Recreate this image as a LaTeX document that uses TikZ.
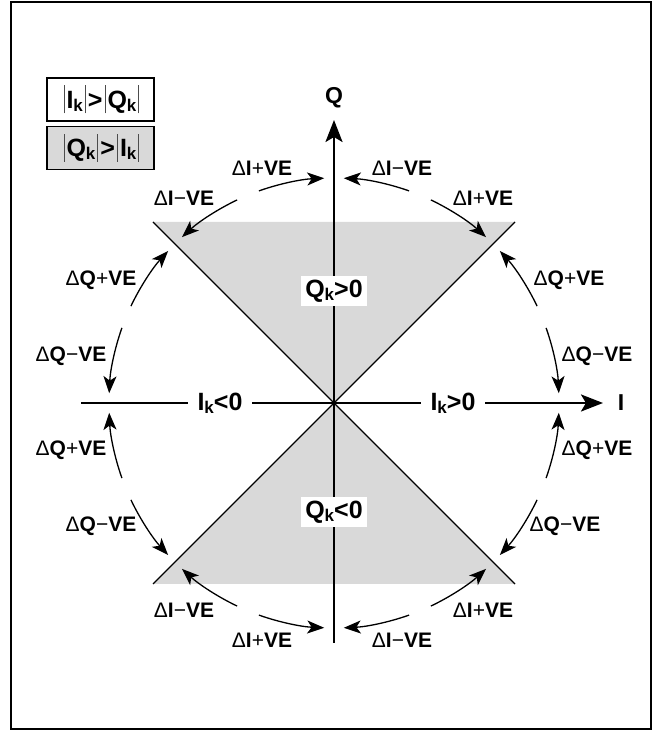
\documentclass[tikz,border=0pt]{standalone}
\usepackage{fontspec}
\setmainfont{Liberation Sans}
\usetikzlibrary{arrows.meta}
\newcommand\kk{\raisebox{-3bp}{\fontsize{17bp}{17bp}\selectfont k}}
\newcommand\vb{\hspace{2bp}\textcolor{black!70}{\rule[-5bp]{1bp}{28bp}}\hspace{2bp}}
\newcommand\dlab[2]{{\mdseries\char"0394}#1{\mdseries #2}VE}
\begin{document}
\begin{tikzpicture}[x=1bp,y=1bp,
  lab/.style={font=\fontsize{21bp}{22bp}\selectfont\bfseries, inner sep=0pt},
  bigw/.style={font=\fontsize{25bp}{27bp}\selectfont\bfseries, fill=white, inner xsep=10bp, inner ysep=2bp},
  bigq/.style={font=\fontsize{25bp}{27bp}\selectfont\bfseries, fill=white, inner xsep=4bp, inner ysep=4bp},
  axlab/.style={font=\fontsize{23bp}{24bp}\selectfont\bfseries, inner sep=0pt},
  axisline/.style={line width=2.6bp},
  axarrow/.style={-{Stealth[length=22bp,width=17bp,inset=5bp]}},
  arcarrow/.style={line width=1.3bp, -{Stealth[length=17bp,width=13bp,inset=4.5bp]}},
  diag/.style={line width=1.3bp},
  legbox/.style={draw, line width=1.3bp, minimum width=107bp, minimum height=43bp, inner sep=0pt,
     font=\fontsize{25bp}{27bp}\selectfont\bfseries}]
\useasboundingbox (0,0) rectangle (659,731);
\fill[white] (0,0) rectangle (659,731);
\coordinate (C) at (334,328);
\coordinate (ul) at (153,509);
\coordinate (ur) at (515,509);
\coordinate (ll) at (153,147);
\coordinate (lr) at (515,147);
\fill[gray!30] (ul) -- (ur) -- (C) -- cycle;
\fill[gray!30] (ll) -- (lr) -- (C) -- cycle;
\draw[diag] (ul) -- (lr);
\draw[diag] (ur) -- (ll);
\draw[line width=2.5bp] (11,2) rectangle (651,729);
% axes
\coordinate (hl) at (81,328);
\coordinate (hr) at (603,328);
\coordinate (vb) at (334,88);
\coordinate (vt) at (334,611);
\draw[axisline, axarrow] (hl) -- (hr);
\draw[axisline, axarrow] (vb) -- (vt);
\node[axlab] (Qax) at (334,633) {Q};
\node[axlab] (Iax) at (621,328) {I};
\node[bigw] (ineg) at (220,328) {I\kk{}<0};
\node[bigw] (ipos) at (453,328) {I\kk{}>0};
\node[bigq] (qpos) at (334,440) {Q\kk{}>0};
\node[bigq] (qneg) at (334,219) {Q\kk{}<0};
% legend
\node[legbox, fill=white] (leg1) at (100.5,631.5) {\vb I\kk\vb>\vb Q\kk\vb};
\node[legbox, fill=gray!30] (leg2) at (100.5,583) {\vb Q\kk\vb>\vb I\kk\vb};
% arcs
\foreach \m in {22.5,67.5,...,337.5} {
  \draw[arcarrow] ([shift={(\m-3:225bp)}]C) arc[start angle=\m-3, end angle=\m-20, radius=225bp];
  \draw[arcarrow] ([shift={(\m+3:225bp)}]C) arc[start angle=\m+3, end angle=\m+20, radius=225bp];
}
% labels
\node[lab] (l1) at (597,375) {\dlab{Q}{−}};
\node[lab] (l2) at (569,451) {\dlab{Q}{+}};
\node[lab] (l3) at (483,533) {\dlab{I}{+}};
\node[lab] (l4) at (402,563) {\dlab{I}{−}};
\node[lab] (l5) at (262,563) {\dlab{I}{+}};
\node[lab] (l6) at (184,533) {\dlab{I}{−}};
\node[lab] (l7) at (101,451) {\dlab{Q}{+}};
\node[lab] (l8) at (71,375) {\dlab{Q}{−}};
\node[lab] (l9) at (71,281) {\dlab{Q}{+}};
\node[lab] (l10) at (101,205) {\dlab{Q}{−}};
\node[lab] (l11) at (184,121) {\dlab{I}{−}};
\node[lab] (l12) at (262,91) {\dlab{I}{+}};
\node[lab] (l13) at (402,91) {\dlab{I}{−}};
\node[lab] (l14) at (483,121) {\dlab{I}{+}};
\node[lab] (l15) at (565,205) {\dlab{Q}{−}};
\node[lab] (l16) at (597,281) {\dlab{Q}{+}};
\end{tikzpicture}
\end{document}
